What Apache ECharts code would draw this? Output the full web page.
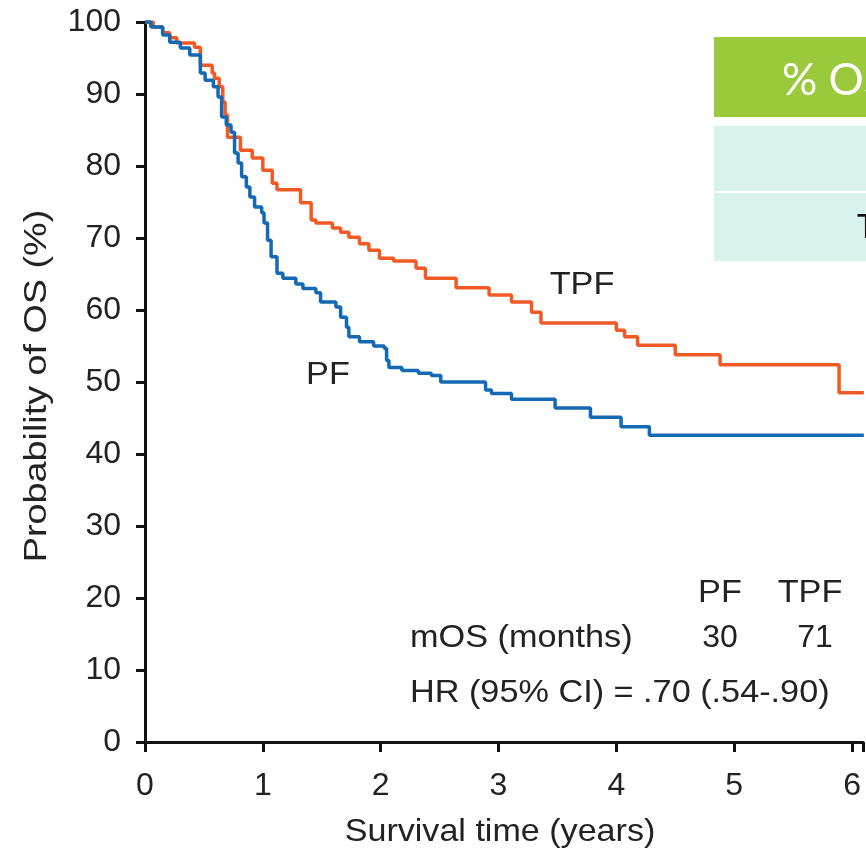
<!DOCTYPE html>
<html><head><meta charset="utf-8">
<script src="https://cdn.jsdelivr.net/npm/echarts@6/dist/echarts.min.js"></script>
<style>html,body{margin:0;padding:0;background:#fff}#c{width:866px;height:856px}</style>
</head><body><div id="c"></div>
<script>
// Survival times (years) and probability of OS (%)
const tpfTime = [0,0.07,0.15,0.21,0.27,0.42,0.47,0.57,0.59,0.63,0.66,0.68,0.70,0.81,0.91,1.00,1.08,1.12,1.32,1.41,1.45,1.59,1.66,1.73,1.82,1.90,1.99,2.11,2.30,2.38,2.64,2.92,3.11,3.28,3.36,4.00,4.07,4.18,4.50,4.88,5.89,6.10];
const tpfSurv = [100,99.3,98.5,97.8,97.1,96.5,94.0,92.9,92.2,91.0,88.9,87.1,84.0,82.2,81.1,79.4,77.6,76.7,74.9,72.5,72.1,71.4,70.8,70.1,69.2,68.3,67.2,66.8,65.8,64.4,63.1,62.1,61.1,59.7,58.2,57.2,56.3,55.1,53.8,52.4,48.5,48.5];
const pfTime = [0,0.05,0.15,0.21,0.30,0.38,0.47,0.51,0.58,0.62,0.65,0.69,0.73,0.76,0.79,0.82,0.86,0.89,0.93,0.99,1.01,1.04,1.07,1.12,1.17,1.28,1.34,1.45,1.49,1.62,1.66,1.71,1.73,1.82,1.94,2.03,2.05,2.07,2.18,2.32,2.43,2.51,2.89,2.94,3.11,3.48,3.78,4.04,4.28,6.10];
const pfSurv = [100,99.3,98.2,97.2,96.4,95.4,92.9,91.9,91.0,89.6,86.8,85.7,84.7,81.8,80.4,78.5,77.1,75.7,74.3,73.5,72.1,69.7,67.4,65.1,64.4,63.6,63.0,62.4,61.1,60.4,59.0,57.6,56.3,55.6,55.0,54.7,53.0,52.0,51.6,51.2,50.9,50.0,48.9,48.4,47.6,46.4,45.1,43.8,42.6,42.6];
const xTicks = [0,1,2,3,4,5,6];
const yTicks = [0,10,20,30,40,50,60,70,80,90,100];
const statsHeader = ['PF','TPF'];
const mosValues = ['30','71'];
const hrText = 'HR (95% CI) = .70 (.54-.90)';

const FONT = '"Liberation Sans",Arial,sans-serif';
const TXT = '#222';
const FS = 32;
const chart = echarts.init(document.getElementById('c'), null, {renderer:'canvas'});

function txt(x, y, s, align, sx) {
  return {type:'text', x:x, y:y, scaleX:sx||1.07,
    style:{text:s, fontSize:FS, fontFamily:FONT, fill:TXT, align:align||'left', verticalAlign:'middle'}};
}

chart.setOption({
  animation:false,
  grid:{left:145, top:22, bottom:114, right:0, containLabel:false},
  xAxis:{type:'value', min:0, max:6.093, interval:1,
    axisLine:{lineStyle:{color:'#111', width:3}},
    axisTick:{length:10, lineStyle:{color:'#111', width:3}},
    axisLabel:{margin:28, fontSize:FS, fontFamily:FONT, color:TXT,
      formatter:v=> xTicks.includes(Math.round(v*1000)/1000) ? String(v) : ''},
    splitLine:{show:false}},
  yAxis:{type:'value', min:0, max:100, interval:10,
    axisLine:{show:true, lineStyle:{color:'#111', width:3}},
    axisTick:{show:true, length:9, lineStyle:{color:'#111', width:3}},
    axisLabel:{margin:24, fontSize:FS, fontFamily:FONT, color:TXT,
      formatter:v=> yTicks.includes(v) ? String(v) : ''},
    splitLine:{show:false}},
  series:[
    {name:'TPF', type:'line', step:'end', symbol:'none', z:3,
      lineStyle:{color:'#f15a24', width:3.5},
      data: tpfTime.map((t,i)=>[t, tpfSurv[i]])},
    {name:'PF', type:'line', step:'end', symbol:'none', z:4,
      lineStyle:{color:'#1469b4', width:3.5},
      data: pfTime.map((t,i)=>[t, pfSurv[i]])}
  ],
  graphic:[
    // partially visible title at top
    {type:'text', x:482, y:5, style:{text:'30% reduction in risk of death', fontSize:26, fontWeight:'bold', fontFamily:FONT, fill:'#9a9a9a', align:'center', verticalAlign:'bottom'}},
    // table at right
    {type:'rect', shape:{x:714, y:37, width:160, height:80}, style:{fill:'#9aca3c'}},
    {type:'rect', shape:{x:714, y:126, width:160, height:65}, style:{fill:'#daf2ec'}},
    {type:'rect', shape:{x:714, y:193, width:160, height:68}, style:{fill:'#daf2ec'}},
    {type:'text', x:782, y:81, style:{text:'% OS', fontSize:44, fontFamily:'Lato,"Open Sans",sans-serif', fill:'#fff', align:'left', verticalAlign:'middle'}},
    {type:'text', x:857, y:228, style:{text:'TPF', fontSize:32, fontFamily:'Lato,"Open Sans",sans-serif', fill:'#111', align:'left', verticalAlign:'middle'}},
    // axis titles
    {type:'text', x:37, y:386, rotation:Math.PI/2, scaleX:1.18, style:{text:'Probability of OS (%)', fontSize:FS, fontFamily:FONT, fill:TXT, align:'center', verticalAlign:'middle'}},
    {type:'text', x:500, y:832, scaleX:1.065, style:{text:'Survival time (years)', fontSize:FS, fontFamily:FONT, fill:TXT, align:'center', verticalAlign:'middle'}},
    // curve labels
    txt(582, 285, 'TPF', 'center'),
    txt(328, 375, 'PF', 'center'),
    // stats box
    txt(720, 593, statsHeader[0], 'center'),
    txt(810, 593, statsHeader[1], 'center'),
    txt(410, 638, 'mOS (months)', 'left'),
    txt(720, 638, mosValues[0], 'center', 1),
    txt(815, 638, mosValues[1], 'center', 1),
    txt(410, 693, hrText, 'left')
  ]
});
</script></body></html>
